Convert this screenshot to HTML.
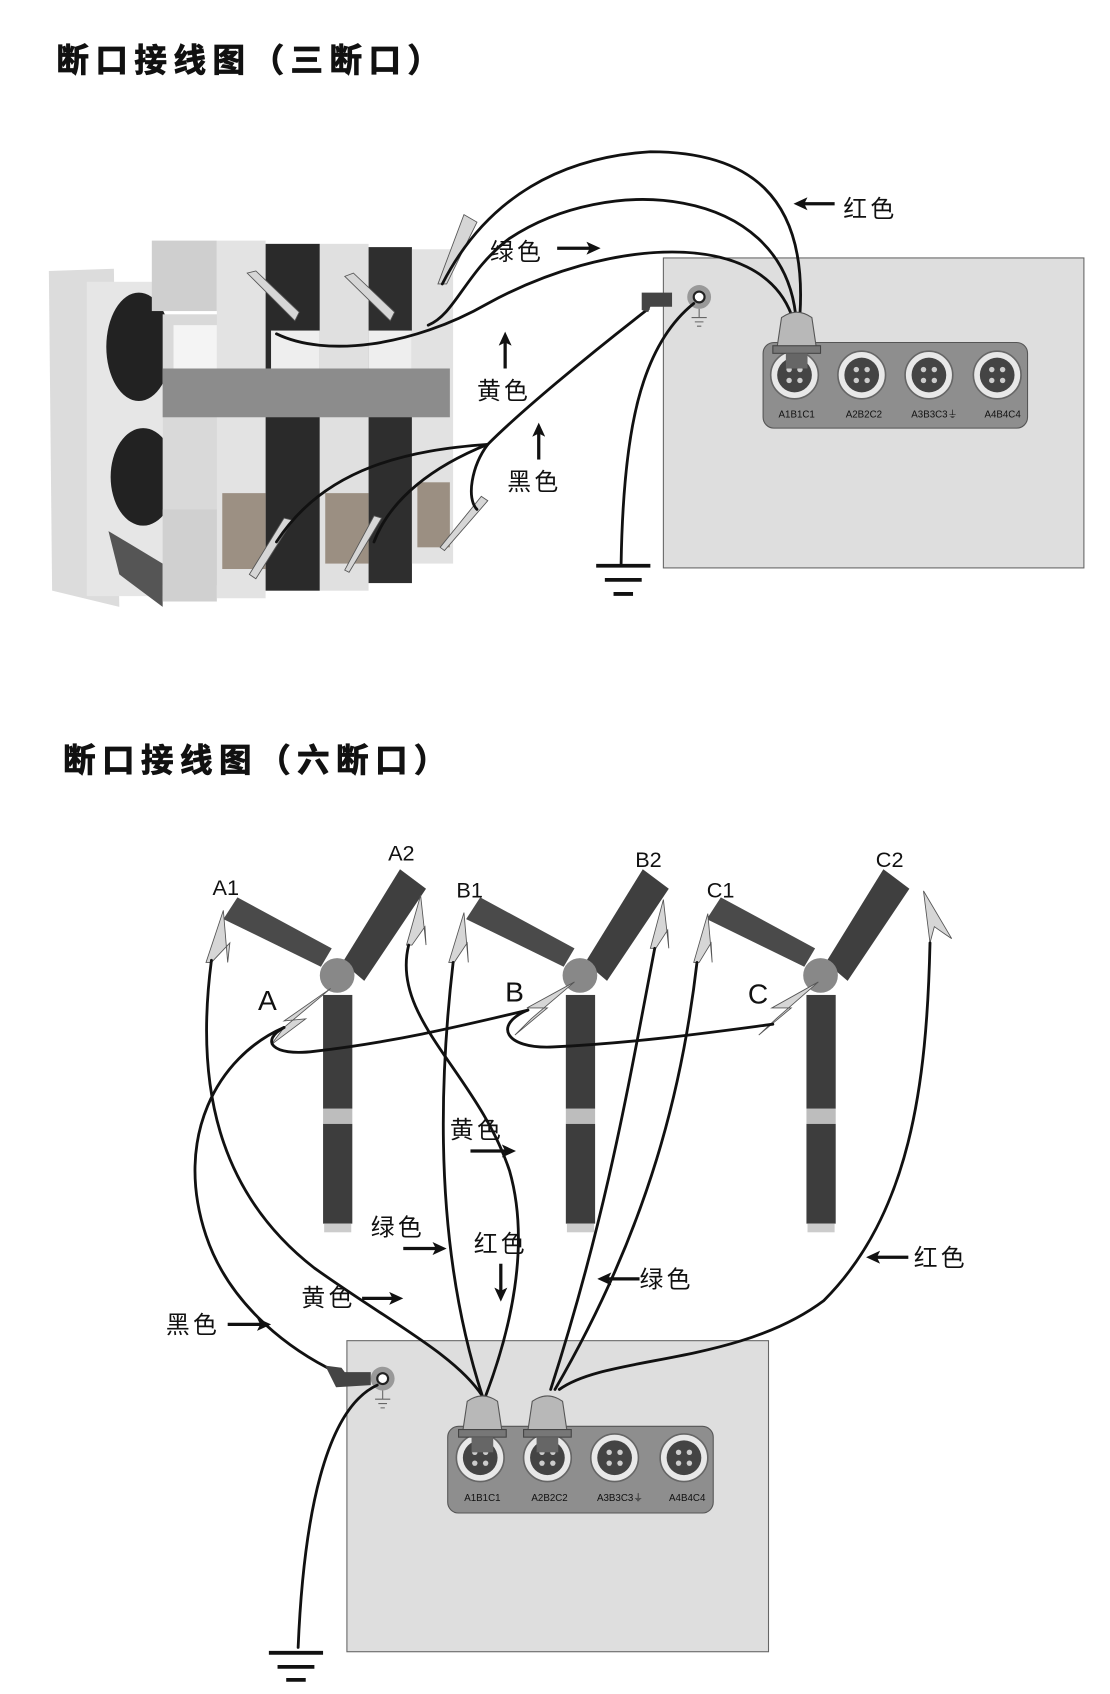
<!DOCTYPE html>
<html><head><meta charset="utf-8"><style>
html,body{margin:0;padding:0;background:#fff;}
svg{display:block}
text{font-family:"Liberation Sans","Noto Sans CJK SC",sans-serif;fill:#111}
.w{fill:none;stroke:#111;stroke-width:2.6;stroke-linecap:round}
.cl{fill:#d6d6d6;stroke:#555;stroke-width:0.8}
.t{font-size:30px;font-weight:bold;font-family:"Noto Sans CJK SC","WenQuanYi Zen Hei",sans-serif;letter-spacing:6px;stroke:#111;stroke-width:0.8}
.lb{font-size:22px;font-family:"Liberation Sans","Noto Sans CJK SC",sans-serif;letter-spacing:3px}
.ph{font-size:20px}
.ar{stroke:#111;stroke-width:3}
</style></head><body>
<svg width="1110" height="1694" viewBox="0 0 1024 1563" xmlns="http://www.w3.org/2000/svg">
<defs>
<marker id="ah" markerWidth="13" markerHeight="12" refX="9" refY="6" orient="auto" markerUnits="userSpaceOnUse"><path d="M0,0 L13,6 L0,12 L3,6 Z" fill="#111"/></marker>
<g id="sock"><circle r="22" fill="#e8e8e8" stroke="#666" stroke-width="1.5"/><circle r="16" fill="#444"/><circle cx="-5" cy="-5" r="2.5" fill="#ccc"/><circle cx="5" cy="-5" r="2.5" fill="#ccc"/><circle cx="-5" cy="5" r="2.5" fill="#ccc"/><circle cx="5" cy="5" r="2.5" fill="#ccc"/></g>
<g id="plug"><path d="M-18,-5 L-14,-32 Q0,-42 14,-32 L18,-5 Z" fill="#b8b8b8" stroke="#555"/><rect x="-22" y="-6" width="44" height="7" fill="#777" stroke="#444"/><rect x="-10" y="1" width="20" height="14" fill="#666"/></g>
<g id="ins">
<path d="M-105,-52 L-15,-8 L-5,-25 L-92,-72 Z" fill="#4a4a4a"/>
<path d="M5,-12 L25,5 L82,-80 L58,-98 Z" fill="#3f3f3f"/>
<circle cx="0" cy="0" r="16" fill="#888"/>
<rect x="-13" y="18" width="27" height="105" fill="#3d3d3d"/>
<rect x="-13" y="123" width="27" height="14" fill="#bdbdbd"/>
<rect x="-13" y="137" width="27" height="92" fill="#3d3d3d"/>
<rect x="-12" y="229" width="25" height="8" fill="#ccc"/>
</g>
</defs>
<rect width="1024" height="1563" fill="#fff"/>

<text class="t" x="52" y="66">断口接线图（三断口）</text>
<text class="t" x="58" y="712">断口接线图（六断口）</text>

<!-- TOP photo approximation -->
<g>
<path d="M45,250 L105,248 L110,560 L48,545 Z" fill="#dcdcdc"/>
<rect x="80" y="260" width="70" height="290" fill="#e6e6e6"/>
<ellipse cx="128" cy="320" rx="30" ry="50" fill="#222"/>
<ellipse cx="132" cy="440" rx="30" ry="45" fill="#222"/>
<rect x="150" y="290" width="60" height="250" fill="#d9d9d9"/>
<rect x="140" y="222" width="60" height="65" fill="#cfcfcf"/>
<rect x="200" y="222" width="45" height="330" fill="#e3e3e3"/>
<rect x="245" y="225" width="50" height="320" fill="#2a2a2a"/>
<rect x="295" y="225" width="45" height="320" fill="#e0e0e0"/>
<rect x="340" y="228" width="40" height="310" fill="#2e2e2e"/>
<rect x="380" y="230" width="38" height="290" fill="#e2e2e2"/>
<rect x="150" y="340" width="265" height="45" fill="#8c8c8c"/>
<rect x="160" y="300" width="40" height="40" fill="#f4f4f4"/>
<rect x="250" y="305" width="45" height="35" fill="#eee"/>
<rect x="340" y="305" width="40" height="35" fill="#eee"/>
<rect x="205" y="455" width="40" height="70" fill="#8a7a6a" opacity=".8"/>
<rect x="300" y="455" width="40" height="65" fill="#8a7a6a" opacity=".8"/>
<rect x="385" y="445" width="30" height="60" fill="#8a7a6a" opacity=".8"/>
<path d="M100,490 L150,520 L150,560 L110,530 Z" fill="#555"/>
<rect x="150" y="470" width="50" height="85" fill="#d0d0d0"/>
</g>

<!-- top box (under wires) -->
<rect x="612" y="238" width="388" height="286" fill="#dedede" stroke="#666" stroke-width="1"/>
<circle cx="645" cy="274" r="11" fill="#999"/><circle cx="645" cy="274" r="5" fill="#fff" stroke="#222" stroke-width="2"/>
<path d="M645,285 v8 M638,293 h14 M641,297 h8 M643,301 h4" stroke="#666" fill="none"/>
<rect x="704" y="316" width="244" height="79" rx="10" fill="#8e8e8e" stroke="#555"/>
<use href="#sock" x="733" y="346"/><use href="#sock" x="795" y="346"/><use href="#sock" x="857" y="346"/><use href="#sock" x="920" y="346"/>
<g font-size="9" font-family="Liberation Sans" text-anchor="middle"><text x="735" y="385">A1B1C1</text><text x="797" y="385">A2B2C2</text><text x="862" y="385">A3B3C3⏚</text><text x="925" y="385">A4B4C4</text></g>

<!-- top clips -->
<path class="cl" d="M428,198 L404,262 L412,262 L440,205 Z"/>
<path class="cl" d="M228,252 L272,296 L276,288 L236,250 Z"/>
<path class="cl" d="M318,255 L360,296 L364,288 L326,252 Z"/>
<path class="cl" d="M236,534 L270,480 L262,478 L230,530 Z"/>
<path class="cl" d="M322,528 L352,478 L345,476 L318,526 Z"/>
<path class="cl" d="M410,508 L450,462 L444,458 L406,505 Z"/>

<!-- top wires -->
<path class="w" d="M738,290 C745,180 690,140 600,140 C520,145 450,180 408,262"/>
<path class="w" d="M734,290 C720,170 560,160 470,220 C430,250 420,290 395,300"/>
<path class="w" d="M730,290 C700,210 560,220 450,280 C380,320 300,330 255,308"/>
<path class="w" d="M598,285 C540,330 480,380 450,410"/>
<path class="w" d="M450,410 C380,415 300,430 255,500"/>
<path class="w" d="M450,410 C400,430 360,460 345,500"/>
<path class="w" d="M450,410 C435,430 430,460 440,470"/>
<path class="w" d="M640,280 C590,320 575,400 573,520"/>
<path d="M592,270 L620,270 L620,283 L600,283 L598,288 L592,286 Z" fill="#444"/>
<use href="#plug" x="735" y="325"/>

<line x1="550" y1="522" x2="600" y2="522" stroke="#111" stroke-width="3.5"/>
<line x1="558" y1="535" x2="592" y2="535" stroke="#111" stroke-width="3.5"/>
<line x1="566" y1="548" x2="584" y2="548" stroke="#111" stroke-width="3.5"/>

<text class="lb" x="452" y="240">绿色</text>
<line class="ar" x1="514" y1="229" x2="550" y2="229" marker-end="url(#ah)"/>
<text class="lb" x="778" y="200">红色</text>
<line class="ar" x1="770" y1="188" x2="736" y2="188" marker-end="url(#ah)"/>
<line class="ar" x1="466" y1="340" x2="466" y2="310" marker-end="url(#ah)"/>
<text class="lb" x="440" y="368">黄色</text>
<line class="ar" x1="497" y1="424" x2="497" y2="394" marker-end="url(#ah)"/>
<text class="lb" x="468" y="452">黑色</text>

<!-- BOTTOM -->
<use href="#ins" x="311" y="900"/>
<use href="#ins" x="535" y="900"/>
<use href="#ins" x="757" y="900"/>

<g class="ph">
<text x="196" y="826">A1</text><text x="358" y="794">A2</text><text x="421" y="828">B1</text>
<text x="586" y="800">B2</text><text x="652" y="828">C1</text><text x="808" y="800">C2</text>
<text x="238" y="932" font-size="26">A</text><text x="466" y="924" font-size="26">B</text><text x="690" y="926" font-size="26">C</text>
</g>

<!-- bottom box (under wires) -->
<rect x="320" y="1237" width="389" height="287" fill="#dedede" stroke="#666" stroke-width="1"/>
<circle cx="353" cy="1272" r="11" fill="#999"/><circle cx="353" cy="1272" r="5" fill="#fff" stroke="#222" stroke-width="2"/>
<path d="M353,1283 v8 M346,1291 h14 M349,1295 h8 M351,1299 h4" stroke="#666" fill="none"/>
<rect x="413" y="1316" width="245" height="80" rx="10" fill="#8e8e8e" stroke="#555"/>
<use href="#sock" x="443" y="1345"/><use href="#sock" x="505" y="1345"/><use href="#sock" x="567" y="1345"/><use href="#sock" x="631" y="1345"/>
<g font-size="9" font-family="Liberation Sans" text-anchor="middle"><text x="445" y="1385">A1B1C1</text><text x="507" y="1385">A2B2C2</text><text x="572" y="1385">A3B3C3⏚</text><text x="634" y="1385">A4B4C4</text></g>

<path class="cl" d="M206,840 L190,888 L195,888 L212,870 L210,888 Z"/>
<path class="cl" d="M388,826 L375,872 L380,872 L392,855 L393,872 Z"/>
<path class="cl" d="M428,842 L414,888 L419,888 L431,870 L432,888 Z"/>
<path class="cl" d="M612,830 L600,875 L605,875 L616,858 L617,875 Z"/>
<path class="cl" d="M653,843 L640,888 L645,888 L656,870 L657,888 Z"/>
<path class="cl" d="M852,822 L878,866 L872,862 L862,855 L858,870 Z"/>
<path class="cl" d="M305,912 L262,942 L282,940 L250,964 L262,948 Z"/>
<path class="cl" d="M530,906 L486,930 L505,930 L475,955 L490,940 Z"/>
<path class="cl" d="M755,906 L712,930 L730,930 L700,955 L716,940 Z"/>

<path class="w" d="M262,948 C240,960 250,975 290,970 C360,962 420,948 487,932"/>
<path class="w" d="M487,932 C455,945 465,968 510,966 C590,962 660,952 713,945"/>
<path class="w" d="M262,948 C200,975 160,1050 190,1140 C210,1200 260,1240 302,1262"/>
<path class="w" d="M195,886 C180,1000 200,1100 290,1170 C360,1220 420,1250 445,1288"/>
<path class="w" d="M377,872 C360,940 440,990 470,1080 C490,1150 470,1230 448,1288"/>
<path class="w" d="M418,888 C405,1000 400,1150 445,1288"/>
<path class="w" d="M604,875 C580,1000 560,1120 508,1282"/>
<path class="w" d="M643,888 C630,1000 600,1130 512,1282"/>
<path class="w" d="M858,870 C855,1000 840,1120 760,1200 C680,1260 560,1250 516,1282"/>
<path class="w" d="M348,1278 C300,1300 280,1400 275,1520"/>
<path d="M300,1260 L315,1262 L318,1266 L342,1266 L342,1278 L310,1280 Z" fill="#444"/>
<use href="#plug" x="445" y="1325"/><use href="#plug" x="505" y="1325"/>

<line x1="248" y1="1525" x2="298" y2="1525" stroke="#111" stroke-width="3.5"/>
<line x1="256" y1="1538" x2="290" y2="1538" stroke="#111" stroke-width="3.5"/>
<line x1="264" y1="1550" x2="282" y2="1550" stroke="#111" stroke-width="3.5"/>

<text class="lb" x="415" y="1050">黄色</text>
<line class="ar" x1="434" y1="1062" x2="472" y2="1062" marker-end="url(#ah)"/>
<text class="lb" x="342" y="1140">绿色</text>
<line class="ar" x1="372" y1="1152" x2="408" y2="1152" marker-end="url(#ah)"/>
<text class="lb" x="437" y="1155">红色</text>
<line class="ar" x1="462" y1="1166" x2="462" y2="1197" marker-end="url(#ah)"/>
<text class="lb" x="278" y="1205">黄色</text>
<line class="ar" x1="334" y1="1198" x2="368" y2="1198" marker-end="url(#ah)"/>
<text class="lb" x="153" y="1230">黑色</text>
<line class="ar" x1="210" y1="1222" x2="246" y2="1222" marker-end="url(#ah)"/>
<line class="ar" x1="590" y1="1180" x2="555" y2="1180" marker-end="url(#ah)"/>
<text class="lb" x="590" y="1188">绿色</text>
<line class="ar" x1="838" y1="1160" x2="803" y2="1160" marker-end="url(#ah)"/>
<text class="lb" x="843" y="1168">红色</text>
</svg>
</body></html>
